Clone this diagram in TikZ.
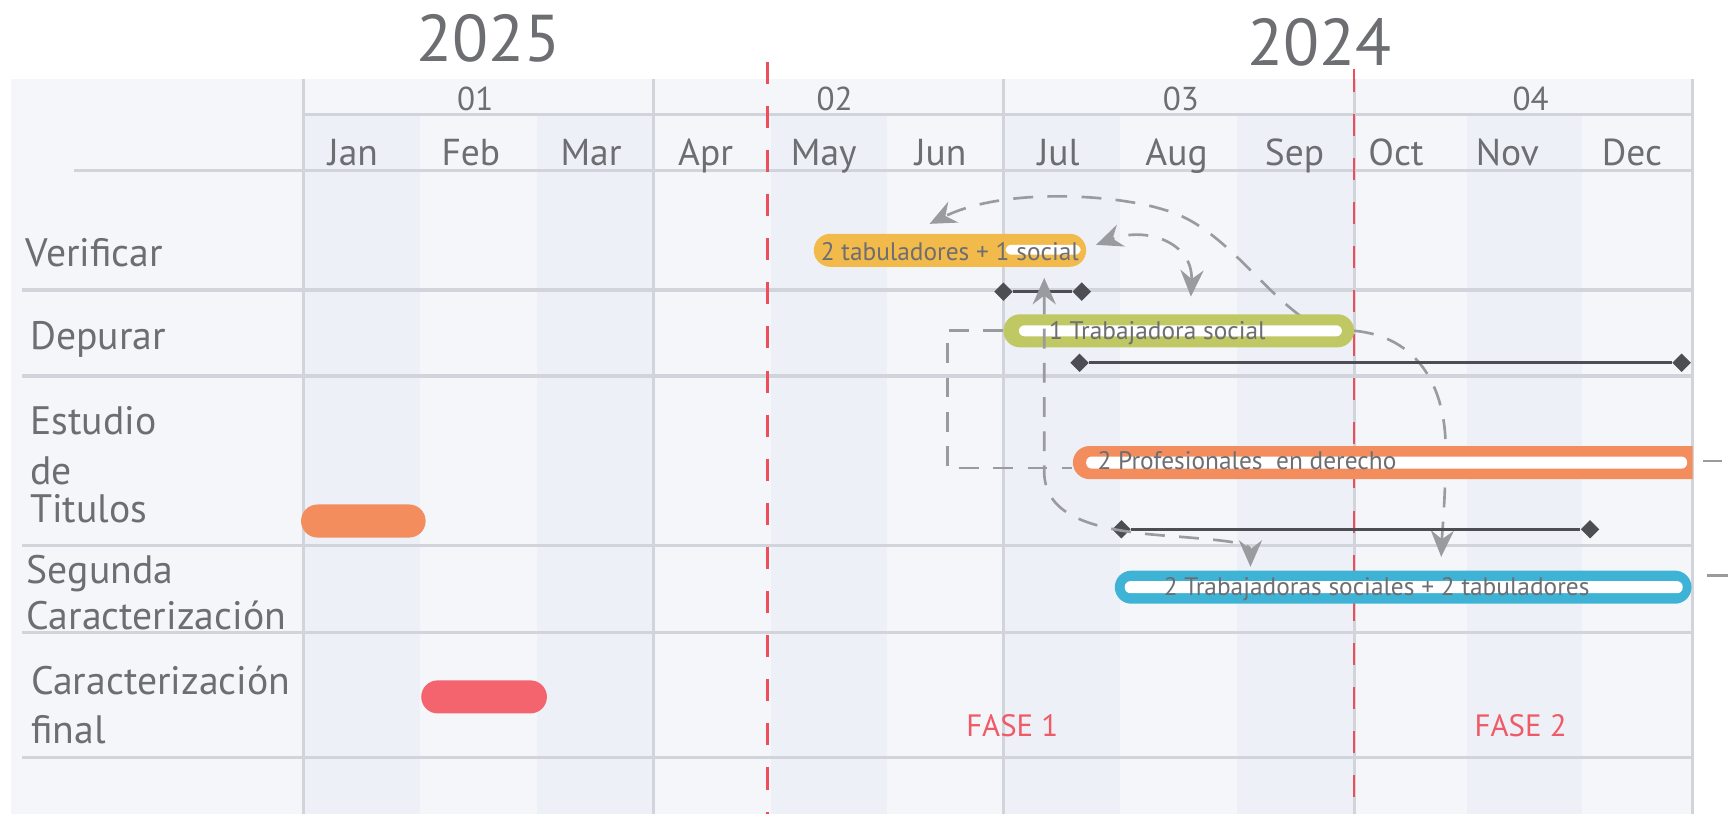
\documentclass[tikz,border=0pt]{standalone}
\usepackage{fontspec}
\setmainfont{PT Sans}
\usetikzlibrary{arrows.meta,shapes.geometric}
\definecolor{panel}{HTML}{F5F6FA}
\definecolor{colshade}{HTML}{EDF0F7}
\definecolor{gridc}{HTML}{D2D4DB}
\definecolor{txt}{HTML}{6D6E72}
\definecolor{redl}{HTML}{EE4D5B}
\definecolor{orangeb}{HTML}{F48D5E}
\definecolor{redb}{HTML}{F4646F}
\definecolor{yellowb}{HTML}{F2BA4B}
\definecolor{greenb}{HTML}{BFC862}
\definecolor{blueb}{HTML}{3FB3D6}
\definecolor{dk}{HTML}{4D4E53}
\definecolor{cg}{HTML}{9A9B9F}
\definecolor{fasec}{HTML}{F05A66}
\tikzset{
  gridline/.style={draw=gridc, line width=1.4pt},
  reddash/.style={draw=redl, line width=1pt, dash pattern=on 10pt off 10pt},
  yr/.style={font=\fontsize{30}{36}\selectfont, text=txt, inner sep=0pt, anchor=base},
  qtr/.style={font=\fontsize{15}{18}\selectfont, text=txt, inner sep=0pt, anchor=base},
  mon/.style={font=\fontsize{17}{20}\selectfont, text=txt, inner sep=0pt, anchor=base},
  lbl/.style={font=\fontsize{18}{22}\selectfont, text=txt, inner sep=0pt, anchor=base west},
  bar/.style={rectangle, rounded corners=7.5pt, minimum height=15pt, inner sep=0pt, draw=none},
  stripe/.style={fill=white, rounded corners=2.6pt},
  bartxt/.style={font=\fontsize{11.5}{14}\selectfont, text=txt, inner sep=0pt, anchor=base west},
  dmd/.style={diamond, fill=dk, minimum size=8.5pt, inner sep=0pt},
  ln/.style={draw=dk, line width=1.2pt},
  conn/.style={draw=cg, line width=1.2pt, dash pattern=on 9pt off 6.5pt},
  tipb/.style={{Stealth[length=12pt,width=10.5pt,inset=4pt]}-{Stealth[length=12pt,width=10.5pt,inset=4pt]}},
  tipe/.style={-{Stealth[length=12pt,width=10.5pt,inset=4pt]}},
  fase/.style={font=\fontsize{14}{17}\selectfont, text=fasec, inner sep=0pt, anchor=base},
}
\begin{document}
\begin{tikzpicture}[x=0.5pt,y=-0.5pt]
\useasboundingbox (0,0) rectangle (1568,738);
% panel and column shading
\fill[panel] (10,72) rectangle (1535,738);
\foreach \a/\b in {275/381,487/593,699/804,910/1016,1122/1228,1330/1435}
  \fill[colshade] (\a,104) rectangle (\b,738);
% grid
\draw[gridline] (275,104) -- (1535,104);
\draw[gridline] (67,155) -- (1535,155);
\foreach \y in {263,341,495,574,687} \draw[gridline] (20,\y) -- (1535,\y);
\foreach \x in {275,593,910,1228,1535} \draw[gridline] (\x,72) -- (\x,738);
% phase dividers
\draw[reddash] (696,56) -- (696,738);
\draw[reddash] (1228,63) -- (1228,738);
% years
\node[yr] (y25) at (443,56) {2025};
\node[yr] (y24) at (1197,59) {2024};
% quarters
\node[qtr] (q1) at (431,100) {01};
\node[qtr] (q2) at (757,100) {02};
\node[qtr] (q3) at (1071,100) {03};
\node[qtr] (q4) at (1388,100) {04};
% months
\foreach \x/\m in {320/Jan,427/Feb,536/Mar,640/Apr,747/May,853/Jun,960/Jul,1067/Aug,1174/Sep,1266/Oct,1367/Nov,1480/Dec}
  \node[mon] (m\m) at (\x,150) {\m};
% row labels
\node[lbl] (lv) at (23,242) {Verificar};
\node[lbl] (ld) at (27,317) {Depurar};
\node[lbl] (le1) at (27,394) {Estudio};
\node[lbl] (le2) at (27,439) {de};
\node[lbl] (le3) at (27,474) {Titulos};
\node[lbl] (ls1) at (24,529) {Segunda};
\node[lbl] (ls2) at (24,571) {Caracterización};
\node[lbl] (lf1) at (28,630) {Caracterización};
\node[lbl] (lf2) at (28,674) {final};
% connectors hidden behind bars
\coordinate (p1s) at (1180,287);
\coordinate (p1e) at (843,203);
\coordinate (p2e) at (1307,505);
\draw[conn,tipe] (p1s) .. controls (1140,258) and (1105,203) .. (1055,190) .. controls (1010,176) and (910,170) .. (p1e);
\coordinate (gbe) at (1228,300);
\draw[conn,tipe] (gbe) .. controls (1285,305) and (1312,350) .. (1311,410) .. controls (1311,450) and (1308,480) .. (p2e);
% bars
\node[bar, fill=orangeb, minimum width=56.5pt] (os) at (329.5,472.5) {};
\node[bar, fill=redb, minimum width=57pt] (rb) at (439,632) {};
\node[bar, fill=yellowb, minimum width=123.5pt] (yb) at (861.5,227) {};
\node[bar, fill=greenb, minimum width=159pt] (gb) at (1069,300) {};
\begin{scope}
\clip (0,0) rectangle (1535,738);
\node[bar, fill=orangeb, minimum width=293.5pt] (ob) at (1266.5,419.5) {};
\end{scope}
\node[bar, fill=blueb, minimum width=261.5pt] (bb) at (1272.5,532.5) {};
% white stripes
\fill[stripe] (912,222) rectangle (980,231);
\fill[stripe] (924,295) rectangle (1217,305);
\fill[stripe] (985,414) rectangle (1530,425);
\fill[stripe] (1020,527) rectangle (1526,538);
% bar texts
\node[bartxt] (ty) at (744,236) {2 tabuladores + 1 social};
\node[bartxt] (tg) at (951,308) {1 Trabajadora social};
\node[bartxt] (to) at (995,426) {2 Profesionales\ \ en derecho};
\node[bartxt] (tb) at (1055,540) {2 Trabajadoras sociales + 2 tabuladores};
% duration lines
\node[dmd] (d1a) at (910,264.5) {};
\node[dmd] (d1b) at (981,264.5) {};
\draw[ln] (d1a) -- (d1b);
\node[dmd] (d2a) at (979,329) {};
\node[dmd] (d2b) at (1525,329) {};
\draw[ln] (d2a) -- (d2b);
\node[dmd] (d3a) at (1017,480) {};
\node[dmd] (d3b) at (1442,480) {};
\draw[ln] (d3a) -- (d3b);
% connectors on top
\coordinate (b1) at (1080,269);
\coordinate (b2) at (994,222);
\draw[conn,tipb] (b1) .. controls (1082,220) and (1040,205) .. (b2);
\coordinate (c1) at (947,252);
\coordinate (c2) at (1134,514);
\draw[conn,tipb] (c1) -- (947,430) .. controls (949,468) and (990,481) .. (1060,486) .. controls (1110,490) and (1134,492) .. (c2);
\draw[conn] (gb.west) -- (859,300) |- ([yshift=-2.5pt]ob.west);
\coordinate (s1a) at (1544,418);
\coordinate (s1b) at (1562,418);
\draw[draw=cg, line width=1.1pt] (s1a) -- (s1b);
\coordinate (s2a) at (1548,522);
\coordinate (s2b) at (1567,522);
\draw[draw=cg, line width=1.1pt] (s2a) -- (s2b);
% phases
\node[fase] (f1) at (918,668) {FASE 1};
\node[fase] (f2) at (1379,668) {FASE 2};
\end{tikzpicture}
\end{document}
